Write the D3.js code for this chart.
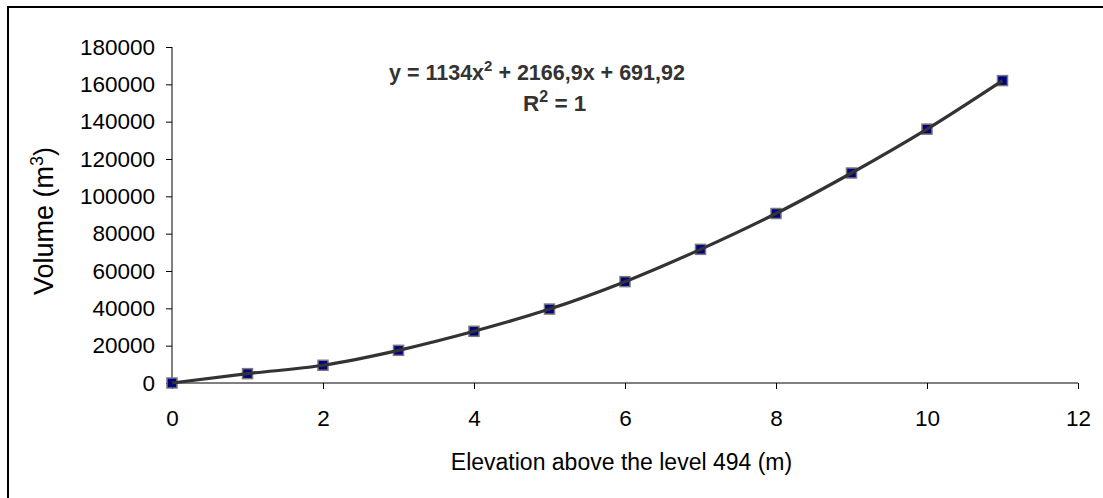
<!DOCTYPE html>
<html>
<head>
<meta charset="utf-8">
<script src="https://cdn.jsdelivr.net/npm/d3@7"></script>
<style>
  html, body { margin: 0; padding: 0; background: #fff; }
  svg { display: block; font-family: "Liberation Sans", Arial, sans-serif; }
</style>
</head>
<body>
<svg id="chart" width="1103" height="498"></svg>
<script>
// ---- data ----
const elevation = [0, 1, 2, 3, 4, 5, 6, 7, 8, 9, 10, 11];
const volume = [0, 5000, 9500, 17500, 27700, 39600, 54300, 71600, 90800, 112500, 136000, 162000];
const xTicks = [0, 2, 4, 6, 8, 10, 12];
const yTicks = [0, 20000, 40000, 60000, 80000, 100000, 120000, 140000, 160000, 180000];
const equationText = ["y = 1134x", "2", " + 2166,9x + 691,92"];
const r2Text = ["R", "2", " = 1"];

const svg = d3.select("#chart");
const W = 1103, H = 498;

// chart area border
svg.append("rect").attr("x", 8).attr("y", 7).attr("width", W - 8 + 2).attr("height", H - 7 + 2)
  .attr("fill", "#fff").attr("stroke", "#000").attr("stroke-width", 2);

const x = d3.scaleLinear().domain([0, 12]).range([172, 1078]);
const y = d3.scaleLinear().domain([0, 180000]).range([383, 47]);

const fs = 22.5;

// y axis
const yAxis = svg.append("g").attr("transform", `translate(${x(0)},0)`)
  .call(d3.axisLeft(y).tickValues(yTicks).tickSize(6).tickPadding(11).tickFormat(d3.format("d")));
// x axis
const xAxis = svg.append("g").attr("transform", `translate(0,${y(0)})`)
  .call(d3.axisBottom(x).tickValues(xTicks).tickSize(6).tickPadding(21).tickFormat(d3.format("d")));

[yAxis, xAxis].forEach(g => {
  g.select(".domain").attr("stroke", "#000").attr("stroke-width", 1);
  g.selectAll(".tick line").attr("stroke", "#000");
  g.selectAll(".tick text").attr("fill", "#000").style("font-size", fs + "px")
    .style("font-family", '"Liberation Sans", Arial, sans-serif');
});
yAxis.select(".domain").attr("d", `M0,${y(180000)}V${y(0)}`);
xAxis.select(".domain").attr("d", `M${x(0)},0H${x(12)}`);

// axis titles
svg.append("text").attr("x", 621.5).attr("y", 470)
  .attr("text-anchor", "middle").style("font-size", "23px").attr("fill", "#000")
  .text("Elevation above the level 494 (m)");

const yt = svg.append("text").attr("transform", `translate(53,221) rotate(-90)`)
  .attr("text-anchor", "middle").style("font-size", "27px").attr("fill", "#000");
yt.append("tspan").text("Volume (m");
yt.append("tspan").attr("dy", -10).style("font-size", "18px").text("3");
yt.append("tspan").attr("dy", 10).text(")");

// markers
const pts = elevation.map((e, i) => ({ e, v: volume[i] }));
svg.append("g").selectAll("rect").data(pts).join("rect")
  .attr("x", d => x(d.e) - 5).attr("y", d => y(d.v) - 5)
  .attr("width", 10).attr("height", 10)
  .attr("fill", "#000080").attr("stroke", "#7a7a7a").attr("stroke-width", 1.5);

// trendline (drawn through the points)
const line = d3.line().x(d => x(d.e)).y(d => y(d.v)).curve(d3.curveMonotoneX);
svg.append("path").datum(pts).attr("d", line)
  .attr("fill", "none").attr("stroke", "#333").attr("stroke-width", 3.2);

// equation label
const eq = svg.append("text").attr("x", 389).attr("y", 80)
  .style("font-size", "21.5px").style("font-weight", "bold").attr("fill", "#333");
eq.append("tspan").text(equationText[0]);
eq.append("tspan").attr("dy", -9).style("font-size", "15px").text(equationText[1]);
eq.append("tspan").attr("dy", 9).text(equationText[2]);

const r2 = svg.append("text").attr("x", 523).attr("y", 111)
  .style("font-size", "22.5px").style("font-weight", "bold").attr("fill", "#333");
r2.append("tspan").text(r2Text[0]);
r2.append("tspan").attr("dy", -9).style("font-size", "16px").text(r2Text[1]);
r2.append("tspan").attr("dy", 9).text(r2Text[2]);
</script>
</body>
</html>
